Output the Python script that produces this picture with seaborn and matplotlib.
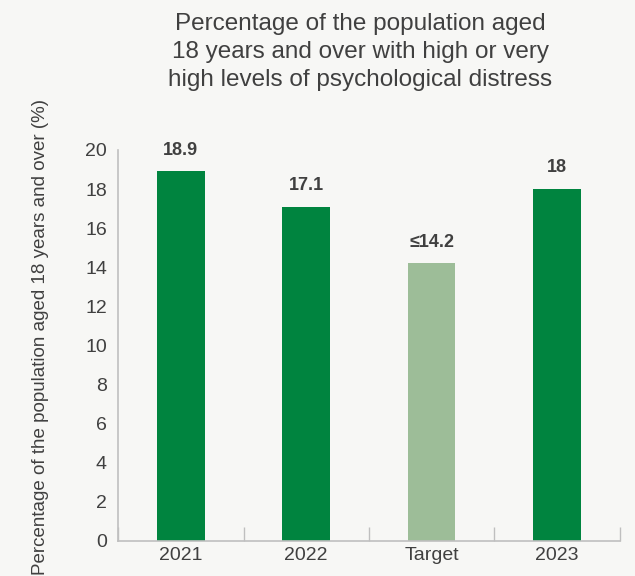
import matplotlib
matplotlib.use("Agg")
import matplotlib.pyplot as plt
import seaborn as sns
import pandas as pd

categories = ["2021", "2022", "Target", "2023"]
values = [18.9, 17.1, 14.2, 18.0]
labels = ["18.9", "17.1", "≤14.2", "18"]
colors = ["#00843F", "#00843F", "#9DBD98", "#00843F"]
yticks = [0, 2, 4, 6, 8, 10, 12, 14, 16, 18, 20]

sns.set_theme(style="white")
plt.rcParams['font.family'] = ['Liberation Sans', 'DejaVu Sans']
bg = "#F7F7F5"
txt = "#404040"

fig = plt.figure(figsize=(6.35, 5.76), dpi=100, facecolor=bg)
ax = fig.add_axes([0.186, 0.0608, 0.790, 0.6788])
ax.set_facecolor(bg)

df = pd.DataFrame({"cat": categories, "val": values})
sns.barplot(data=df, x="cat", y="val", hue="cat", palette=colors, legend=False,
            width=0.38, ax=ax, saturation=1, linewidth=0)

for i, (v, l) in enumerate(zip(values, labels)):
    ax.text(i, v + 0.65, l, ha="center", va="bottom", fontsize=13, fontweight="bold", color=txt)

ax.set_xlim(-0.5, 3.5)
ax.set_ylim(0, 20)
ax.set_yticks(yticks)
ax.tick_params(axis="y", length=0, labelsize=14, labelcolor=txt, pad=8)
ax.tick_params(axis="x", which="major", bottom=True, length=0, labelsize=14, labelcolor=txt, pad=4)
ax.set_xticks([-0.5, 0.5, 1.5, 2.5, 3.5], minor=True)
ax.tick_params(axis="x", which="minor", bottom=True, direction="in", length=10, color="#BFBFBF", width=1)
for s in ["top", "right"]:
    ax.spines[s].set_visible(False)
for s in ["left", "bottom"]:
    ax.spines[s].set_color("#BFBFBF")
    ax.spines[s].set_linewidth(1.2)
ax.set_xlabel("")
ax.set_ylabel("Percentage of the population aged 18 years and over (%)", fontsize=13.5, color=txt)
ax.yaxis.set_label_coords(-0.137, 0.522)

fig.text(0.567, 0.978, "Percentage of the population aged\n18 years and over with high or very\nhigh levels of psychological distress",
         ha="center", va="top", fontsize=17.5, color=txt, linespacing=1.36)

fig.savefig("out.png", dpi=100, facecolor=bg)
